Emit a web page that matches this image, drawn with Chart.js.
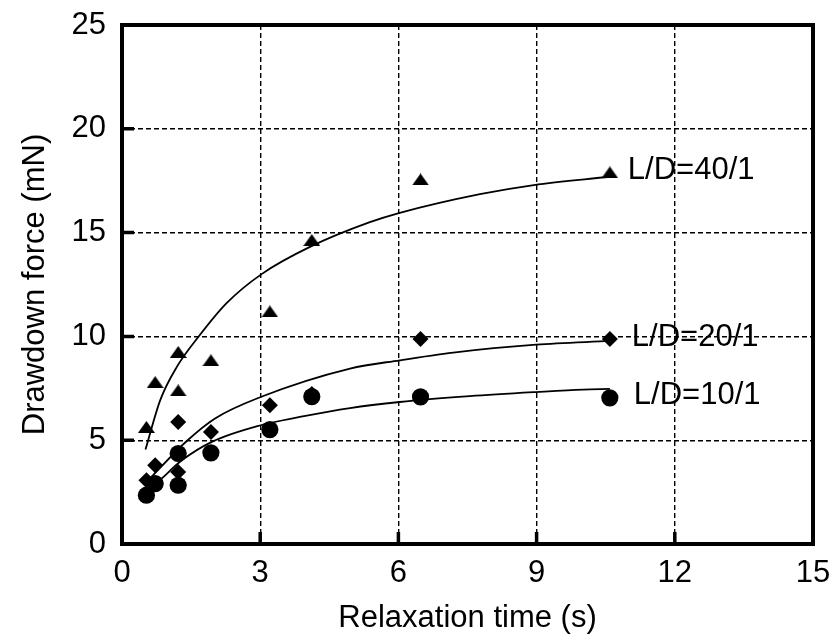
<!DOCTYPE html>
<html>
<head>
<meta charset="utf-8">
<script src="https://cdn.jsdelivr.net/npm/chart.js@4/dist/chart.umd.min.js"></script>
<style>
html,body{margin:0;padding:0;background:#fff;}
#wrap{width:831px;height:640px;position:relative;}
</style>
</head>
<body>
<div id="wrap"><canvas id="c"></canvas></div>
<script>
// ---------- data ----------
const seriesNames = ['L/D=40/1', 'L/D=20/1', 'L/D=10/1'];

// measured points (relaxation time, s)
const measuredTime = [0.53, 0.72, 1.22, 1.22, 1.93, 3.21, 4.12, 6.48, 10.59];
const force40 = [5.64, 7.80, 9.25, 7.40, 8.85, 11.20, 14.64, 17.56, 17.90];
const force20 = [3.07, 3.79, 5.88, 3.47, 5.40, 6.68, 7.22, 9.87, 9.87];
const force10 = [2.35, 2.91, 4.36, 2.83, 4.39, 5.51, 7.10, 7.09, 7.04];

// fitted curves
const fit40X = [0.51, 0.83, 1.19, 1.66, 2.27, 3.03, 4.08, 5.38, 6.03, 7.77, 8.94, 10.59];
const fit40Y = [4.55, 6.93, 8.53, 9.98, 11.60, 13.00, 14.31, 15.50, 15.95, 16.85, 17.29, 17.69];
const fit20X = [0.57, 1.40, 2.02, 3.01, 4.95, 6.03, 7.19, 8.99, 10.59];
const fit20Y = [3.07, 4.95, 6.05, 7.08, 8.45, 8.85, 9.22, 9.60, 9.78];
const fit10X = [0.86, 1.30, 1.95, 3.01, 3.86, 4.95, 6.03, 7.55, 8.99, 10.01, 10.59];
const fit10Y = [3.15, 4.03, 4.92, 5.72, 6.12, 6.55, 6.84, 7.12, 7.32, 7.44, 7.47];

// axis ticks
const xTicks = [0, 3, 6, 9, 12, 15];
const yTicks = [0, 5, 10, 15, 20, 25];

const xTitle = 'Relaxation time (s)';
const yTitle = 'Drawdown force (mN)';

// ---------- styles ----------
const FONT = '"Liberation Sans", Arial, Helvetica, sans-serif';
const FSIZE = 31;
const labelGap = [18, 22, 24];

function makeTriangle(w, h) {
  const c = document.createElement('canvas');
  c.width = w; c.height = h;
  const g = c.getContext('2d');
  g.fillStyle = '#000';
  g.beginPath();
  g.moveTo(w / 2, 0);
  g.lineTo(w, h);
  g.lineTo(0, h);
  g.closePath();
  g.fill();
  return c;
}
const triImg = makeTriangle(17, 12);

const pts = (xs, ys) => xs.map((x, i) => ({ x: x, y: ys[i] }));

function curveDs(xs, ys) {
  return {
    data: pts(xs, ys),
    showLine: true,
    borderColor: '#000',
    borderWidth: 1.8,
    pointRadius: 0,
    pointHoverRadius: 0,
    fill: false,
    cubicInterpolationMode: 'monotone',
    isFit: true
  };
}
function markerDs(ys, style, radius, name, gap) {
  return {
    label: name,
    data: pts(measuredTime, ys),
    showLine: false,
    pointStyle: style,
    pointRadius: radius,
    pointHoverRadius: radius,
    backgroundColor: '#000',
    borderColor: '#000',
    borderWidth: 0,
    seriesLabel: name,
    labelGap: gap
  };
}

const frameAndLabels = {
  id: 'frameAndLabels',
  afterDatasetsDraw(chart) {
    const ctx = chart.ctx;
    const a = chart.chartArea;
    const xs = chart.scales.x, ys = chart.scales.y;
    ctx.save();
    // inward tick marks
    ctx.strokeStyle = '#000';
    ctx.lineWidth = 3.5;
    ctx.beginPath();
    xTicks.forEach(v => {
      const px = xs.getPixelForValue(v);
      ctx.moveTo(px, a.bottom);
      ctx.lineTo(px, a.bottom - 12);
    });
    yTicks.forEach(v => {
      const py = ys.getPixelForValue(v);
      ctx.moveTo(a.left, py);
      ctx.lineTo(a.left + 12, py);
    });
    ctx.stroke();
    // frame
    ctx.lineWidth = 4;
    ctx.strokeRect(a.left, a.top, a.right - a.left, a.bottom - a.top);
    // series labels
    ctx.fillStyle = '#000';
    ctx.font = FSIZE + 'px ' + FONT;
    ctx.textAlign = 'left';
    ctx.textBaseline = 'middle';
    chart.data.datasets.forEach((ds, i) => {
      if (!ds.seriesLabel) return;
      const meta = chart.getDatasetMeta(i);
      const last = meta.data[meta.data.length - 1];
      ctx.fillText(ds.seriesLabel, last.x + ds.labelGap, last.y - 2);
    });
    ctx.restore();
  }
};

function noPad(s) { s.paddingLeft = 0; s.paddingRight = 0; s.paddingTop = 0; s.paddingBottom = 0; }

Chart.defaults.font.family = FONT;
Chart.defaults.color = '#000';

new Chart(document.getElementById('c'), {
  type: 'scatter',
  data: {
    datasets: [
      curveDs(fit40X, fit40Y),
      curveDs(fit20X, fit20Y),
      curveDs(fit10X, fit10Y),
      markerDs(force40, triImg, 9, seriesNames[0], labelGap[0]),
      markerDs(force20, 'rectRot', 8, seriesNames[1], labelGap[1]),
      markerDs(force10, 'circle', 8.6, seriesNames[2], labelGap[2])
    ]
  },
  options: {
    responsive: true,
    maintainAspectRatio: false,
    animation: false,
    events: [],
    layout: { padding: { left: 0, top: 25, right: 18, bottom: 0 } },
    plugins: { legend: { display: false }, tooltip: { enabled: false } },
    scales: {
      x: {
        type: 'linear',
        min: 0, max: 15,
        afterBuildTicks: s => { s.ticks = xTicks.map(v => ({ value: v })); },
        afterFit: s => { s.height = 96; noPad(s); },
        ticks: { font: { size: FSIZE }, padding: 11, color: '#000', maxRotation: 0 },
        grid: { color: '#000', lineWidth: 1.4, drawTicks: false },
        border: { display: false, dash: [5, 3] },
        title: { display: true, text: xTitle, font: { size: FSIZE }, color: '#000', padding: { top: 0, bottom: 3 } }
      },
      y: {
        type: 'linear',
        min: 0, max: 25,
        afterBuildTicks: s => { s.ticks = yTicks.map(v => ({ value: v })); },
        afterFit: s => { s.width = 122; noPad(s); },
        ticks: { font: { size: FSIZE }, padding: 16, color: '#000' },
        grid: { color: '#000', lineWidth: 1.4, drawTicks: false },
        border: { display: false, dash: [5, 3] },
        title: { display: true, text: yTitle, font: { size: FSIZE }, color: '#000', padding: { top: 17, bottom: 0 } }
      }
    }
  },
  plugins: [frameAndLabels]
});
</script>
</body>
</html>
